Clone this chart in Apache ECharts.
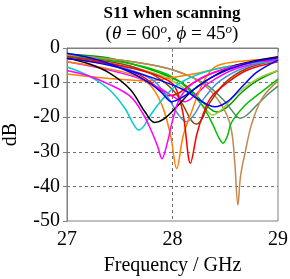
<!DOCTYPE html>
<html><head><meta charset="utf-8">
<script src="https://cdn.jsdelivr.net/npm/echarts@6/dist/echarts.min.js"></script>
<style>html,body{margin:0;padding:0;background:#fff}#c{width:290px;height:279px}</style>
</head><body><div id="c"></div>
<script>
// Axis ticks
const xTicks = [27, 28, 29];
const yTicks = [-50, -40, -30, -20, -10, 0];

// S11 curves: [frequency GHz, dB]
const blue1 = [[27,-1.5],[27.3,-3.5],[27.6,-7],[27.8,-10.5],[27.9,-13],[27.99,-15.5],[28.08,-14.5],[28.2,-12],[28.4,-8],[28.7,-4.5],[29,-2.8]];
const blue2 = [[27,-3],[27.4,-5],[27.8,-8.5],[28.1,-12],[28.28,-15.5],[28.4,-17],[28.52,-15.5],[28.65,-11.5],[28.8,-7],[29,-3.5]];
const black = [[27,-3],[27.2,-4.5],[27.4,-7.2],[27.6,-12],[27.74,-18.5],[27.83,-21.5],[27.92,-20.5],[28.04,-17],[28.2,-12],[28.4,-8],[28.6,-5],[29,-2.5]];
const cyan = [[27,-5.5],[27.2,-8],[27.4,-12],[27.55,-17.5],[27.63,-22],[27.68,-23.7],[27.73,-22.5],[27.8,-19],[27.9,-15],[28.05,-10.5],[28.3,-7],[28.6,-5],[29,-3.8]];
const magenta1 = [[27,-6.5],[27.2,-8],[27.4,-10.5],[27.6,-14],[27.72,-19],[27.8,-24],[27.86,-28.5],[27.9,-32],[27.95,-27.5],[28.0,-21],[28.07,-14.5],[28.2,-10],[28.4,-7],[28.7,-4.5],[29,-3.5]];
const magenta2 = [[27,-4],[27.4,-6.4],[27.7,-9],[27.9,-12],[28.03,-14.5],[28.12,-15.5],[28.2,-14],[28.35,-10],[28.6,-6],[29,-3.2]];
const orange1 = [[27,-4],[27.3,-5.5],[27.6,-7.5],[27.78,-10.5],[27.9,-16.5],[27.98,-25],[28.04,-34.8],[28.1,-25.5],[28.18,-18.5],[28.29,-10],[28.4,-5.5],[28.6,-4],[29,-3]];
const orange2 = [[27,-7.5],[27.4,-8.8],[27.75,-9.5],[28.0,-8.5],[28.25,-7.2],[28.5,-5.5],[28.8,-4.3],[29,-3.8]];
const red1 = [[27,-3],[27.4,-4.5],[27.7,-6.5],[27.9,-8.5],[28.02,-11],[28.1,-19],[28.17,-33.3],[28.23,-25],[28.28,-20],[28.36,-14.5],[28.5,-10.5],[28.7,-6.5],[29,-4]];
const red2 = [[27,-2.5],[27.4,-4.5],[27.7,-8],[27.88,-12],[27.97,-13.8],[28.06,-13],[28.2,-10],[28.4,-7],[28.7,-4.5],[29,-3]];
const brown = [[27,-2.5],[27.5,-4.5],[27.8,-7.5],[28.0,-12],[28.1,-16.5],[28.18,-21],[28.23,-22],[28.28,-20.5],[28.34,-16.5],[28.5,-10],[28.7,-6],[29,-3.5]];
const steel = [[27,-3],[27.5,-5.5],[27.8,-9],[27.95,-14],[28.05,-19],[28.13,-21.3],[28.2,-19.5],[28.3,-14.5],[28.45,-9.5],[28.7,-5.5],[29,-3.5]];
const lime = [[27,-2.5],[27.5,-4],[27.9,-7],[28.1,-10.5],[28.28,-16.5],[28.38,-22],[28.44,-26],[28.48,-27.5],[28.52,-25.5],[28.56,-21.5],[28.69,-16.5],[28.81,-13.5],[29,-9]];
const grayGreen = [[27,-2],[27.5,-3.5],[27.9,-5.5],[28.15,-8],[28.34,-11],[28.5,-15.6],[28.6,-19.5],[28.64,-20.3],[28.7,-19.5],[28.8,-16.5],[28.9,-13.5],[29,-11]];
const peru = [[27,-2],[27.5,-3.5],[27.9,-5.5],[28.15,-8],[28.35,-12],[28.5,-18.4],[28.56,-24],[28.59,-33],[28.62,-45.4],[28.645,-37],[28.69,-30],[28.75,-22],[28.85,-14.5],[29,-9.5]];
const yellowGreen = [[27,-3],[27.5,-5],[27.9,-8],[28.15,-12.5],[28.3,-17],[28.38,-19.4],[28.46,-18],[28.6,-13.5],[28.8,-9],[29,-6.5]];
const darkGreen = [[27,-1.8],[27.34,-2.6],[27.6,-4.5],[27.88,-7.2],[28.12,-10.7],[28.3,-16],[28.42,-18.5],[28.52,-17],[28.65,-13],[28.8,-9.5],[29,-6.5]];

const curves = [
  {d: darkGreen, c: '#009900'},
  {d: grayGreen, c: '#558b68'},
  {d: peru, c: '#c4874c'},
  {d: yellowGreen, c: '#9acd32'},
  {d: lime, c: '#00c000'},
  {d: orange2, c: '#ff8000'},
  {d: red2, c: '#ff0000'},
  {d: brown, c: '#8b4513'},
  {d: steel, c: '#4a90d9'},
  {d: magenta2, c: '#ff00ff'},
  {d: orange1, c: '#ff8000'},
  {d: red1, c: '#ff0000'},
  {d: cyan, c: '#00cccc'},
  {d: black, c: '#000000'},
  {d: magenta1, c: '#ff00ff'},
  {d: blue2, c: '#0000ff'},
  {d: blue1, c: '#0000ff'}
];

const FONT = '"Liberation Serif", "DejaVu Serif", serif';
const chart = echarts.init(document.getElementById('c'), null, {renderer: 'canvas'});
chart.setOption({
  animation: false,
  backgroundColor: '#fff',
  grid: {left: 67, right: 12, top: 48, bottom: 58, show: true, borderColor: '#808080', borderWidth: 1, outerBoundsMode: 'none', containLabel: false},
  graphic: [
    {type: 'text', x: 172, y: 14, style: {text: 'S11 when scanning', fontFamily: FONT, fontWeight: 'bold', fontSize: 17, fill: '#000', textAlign: 'center', textVerticalAlign: 'middle'}},
    {type: 'text', x: 172, y: 34, style: {
      text: '({i|θ} = 60{s|o}, {i|ϕ} = 45{s|o})',
      fontFamily: FONT, fontSize: 19, fill: '#000', textAlign: 'center', textVerticalAlign: 'middle',
      rich: {
        i: {fontFamily: FONT, fontSize: 19, fontStyle: 'italic', fill: '#000'},
        s: {fontFamily: FONT, fontSize: 13, fontStyle: 'italic', fill: '#000', verticalAlign: 'top', padding: [0, 0, 8, 0]}
      }
    }}
  ],
  xAxis: {
    type: 'value', min: xTicks[0], max: xTicks[xTicks.length - 1], interval: 1,
    name: 'Frequency / GHz', nameLocation: 'middle', nameGap: 35,
    nameTextStyle: {fontFamily: FONT, fontSize: 20, color: '#000'},
    axisLine: {show: true, lineStyle: {color: '#808080', width: 1}},
    axisTick: {show: true, length: 4, lineStyle: {color: '#808080'}},
    axisLabel: {fontFamily: FONT, fontSize: 20, color: '#000', margin: 9},
    splitLine: {show: true, showMinLine: false, showMaxLine: false, lineStyle: {type: [3, 3], color: '#707070', width: 1}}
  },
  yAxis: {
    type: 'value', min: yTicks[0], max: yTicks[yTicks.length - 1], interval: 10,
    name: 'dB', nameLocation: 'middle', nameGap: 46, nameRotate: 90,
    nameTextStyle: {fontFamily: FONT, fontSize: 20, color: '#000'},
    axisLine: {show: true, lineStyle: {color: '#808080', width: 1}},
    axisTick: {show: true, length: 4, lineStyle: {color: '#808080'}},
    axisLabel: {fontFamily: FONT, fontSize: 20, color: '#000', margin: 7},
    splitLine: {show: true, showMinLine: false, showMaxLine: false, lineStyle: {type: [3, 3], color: '#707070', width: 1}}
  },
  series: curves.map(k => ({
    type: 'line', data: k.d, showSymbol: false, smooth: 0.35,
    lineStyle: {color: k.c, width: 1.5}, itemStyle: {color: k.c}, clip: true, silent: true
  }))
});
</script></body></html>
